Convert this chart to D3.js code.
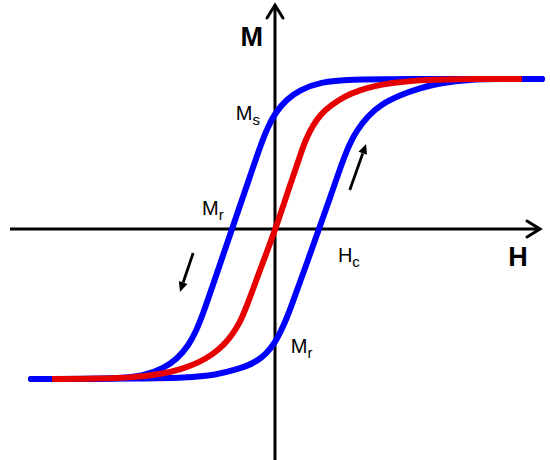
<!DOCTYPE html>
<html>
<head>
<meta charset="utf-8">
<script src="https://cdn.jsdelivr.net/npm/d3@7"></script>
<style>
  html, body { margin: 0; padding: 0; background: #ffffff; }
  svg { display: block; }
</style>
</head>
<body>
<div id="chart"></div>
<script>
// ---- Data (H relative to coercive field, M normalized to Ms) ----
const descendingBranch = [
  [-5.545,-1.0],[-4.432,-1.0],[-3.659,-0.998],[-2.977,-0.98],[-2.523,-0.927],
  [-2.227,-0.867],[-1.955,-0.773],[-1.795,-0.68],[-1.659,-0.587],[-1.295,-0.273],
  [-0.977,0.0],[-0.659,0.273],[-0.295,0.587],[-0.159,0.68],[0.0,0.773],
  [0.273,0.867],[0.568,0.927],[1.023,0.98],[1.705,0.998],[2.841,1.0],[6.068,1.0]
];
const ascendingBranch = [
  [-5.545,-1.0],[-2.841,-0.997],[-2.091,-0.993],[-1.318,-0.973],[-0.841,-0.933],
  [-0.636,-0.913],[-0.409,-0.88],[-0.205,-0.833],[0.0,-0.76],[0.182,-0.653],
  [0.341,-0.54],[0.659,-0.28],[1.0,0.0],[1.273,0.227],[1.545,0.46],[1.705,0.573],
  [1.864,0.66],[2.114,0.753],[2.386,0.827],[2.841,0.893],[3.295,0.94],
  [3.75,0.973],[4.432,0.997],[5.114,1.0],[6.068,1.0]
];
const initialCurve = [
  [-5.068,-1.0],[-3.977,-0.998],[-3.227,-0.99],[-2.568,-0.967],[-2.114,-0.933],
  [-1.75,-0.893],[-1.432,-0.84],[-1.159,-0.773],[-0.977,-0.707],[-0.818,-0.633],
  [-0.682,-0.547],[-0.341,-0.273],[0.023,0.007],[0.341,0.293],[0.614,0.527],
  [0.705,0.6],[0.864,0.693],[1.045,0.767],[1.25,0.82],[1.591,0.887],
  [1.932,0.927],[2.273,0.953],[2.614,0.973],[3.295,0.993],[3.977,1.0],[5.614,1.0]
];
// annotation arrows [from, to] in data units
const directionArrows = [
  [[1.70, 0.26], [2.07, 0.567]],
  [[-1.86, -0.16], [-2.16, -0.42]]
];
// labels: [text, subscript, H, M]
const pointLabels = [
  ["M", "s", -0.89, 0.727],
  ["M", "r", -1.66, 0.093],
  ["H", "c", 1.43, -0.22],
  ["M", "r", 0.36, -0.827]
];
const axisTitles = [["M", -0.53, 1.22], ["H", 5.52, -0.247]];

// ---- Drawing ----
const W = 550, H = 460;
const svg = d3.select("#chart").append("svg").attr("width", W).attr("height", H);

const x = d3.scaleLinear().domain([-6.0227, 6.0227]).range([10, 540]);
const y = d3.scaleLinear().domain([-1.54, 1.4933]).range([460, 5]);

const axisColor = "#000";
// x axis
svg.append("line")
  .attr("x1", x(-6.0227)).attr("x2", x(6.0227))
  .attr("y1", y(0)).attr("y2", y(0))
  .attr("stroke", axisColor).attr("stroke-width", 3);
svg.append("path")
  .attr("d", `M${x(6.0227)-13},${y(0)-8} L${x(6.0227)},${y(0)} L${x(6.0227)-13},${y(0)+8}`)
  .attr("fill", "none").attr("stroke", axisColor).attr("stroke-width", 3)
  .attr("stroke-linecap", "round").attr("stroke-linejoin", "miter");
// y axis
svg.append("line")
  .attr("x1", x(0)).attr("x2", x(0))
  .attr("y1", y(-1.54)).attr("y2", y(1.4933))
  .attr("stroke", axisColor).attr("stroke-width", 3);
svg.append("path")
  .attr("d", `M${x(0)-8},${y(1.4933)+13} L${x(0)},${y(1.4933)} L${x(0)+8},${y(1.4933)+13}`)
  .attr("fill", "none").attr("stroke", axisColor).attr("stroke-width", 3)
  .attr("stroke-linecap", "round").attr("stroke-linejoin", "miter");

const line = d3.line()
  .x(d => x(d[0])).y(d => y(d[1]))
  .curve(d3.curveBasis);

const blue = "#0000ff", red = "#e60000";
[descendingBranch, ascendingBranch].forEach(b => {
  svg.append("path").attr("d", line(b))
    .attr("fill", "none").attr("stroke", blue).attr("stroke-width", 6)
    .attr("stroke-linecap", "round");
});
svg.append("path").attr("d", line(initialCurve))
  .attr("fill", "none").attr("stroke", red).attr("stroke-width", 6)
  .attr("stroke-linecap", "butt");

// direction arrows
directionArrows.forEach(([a, b]) => {
  const x1 = x(a[0]), y1 = y(a[1]), x2 = x(b[0]), y2 = y(b[1]);
  const ang = Math.atan2(y2 - y1, x2 - x1);
  const hl = 10, hw = 4.5;
  const bx = x2 - hl * Math.cos(ang), by = y2 - hl * Math.sin(ang);
  svg.append("line").attr("x1", x1).attr("y1", y1).attr("x2", bx).attr("y2", by)
    .attr("stroke", "#000").attr("stroke-width", 2.8);
  const px = -Math.sin(ang), py = Math.cos(ang);
  svg.append("path")
    .attr("d", `M${x2},${y2} L${bx + hw*px},${by + hw*py} L${bx - hw*px},${by - hw*py} Z`)
    .attr("fill", "#000");
});

// point labels
const font = "'Liberation Sans', Arial, Helvetica, sans-serif";
pointLabels.forEach(([t, s, h, m]) => {
  const txt = svg.append("text")
    .attr("x", x(h)).attr("y", y(m))
    .attr("font-family", font).attr("font-size", 20).attr("fill", "#000");
  txt.append("tspan").text(t);
  txt.append("tspan").text(s).attr("font-size", 15).attr("dy", 5);
});

axisTitles.forEach(([t, h, m]) => {
  svg.append("text")
    .attr("x", x(h)).attr("y", y(m))
    .attr("text-anchor", "middle")
    .attr("font-family", font).attr("font-size", 27).attr("font-weight", "bold")
    .attr("fill", "#000").text(t);
});
</script>
</body>
</html>
